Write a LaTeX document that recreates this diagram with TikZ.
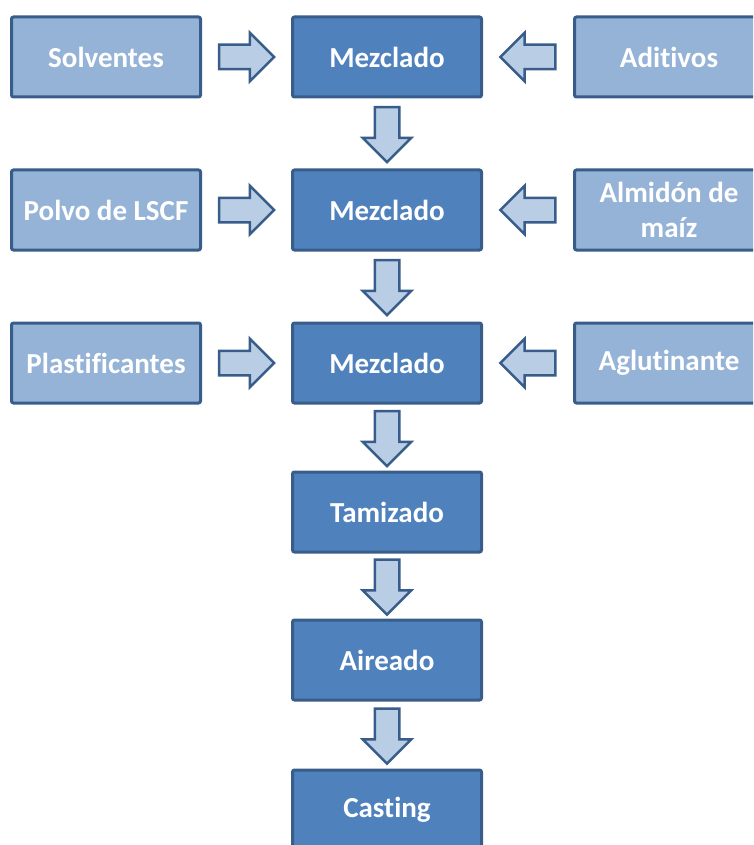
\documentclass[tikz,border=0pt]{standalone}
\usepackage{fontspec}
\setmainfont{Carlito}[Ligatures=NoCommon]
\usepackage{tikz}
\usetikzlibrary{positioning,shapes.arrows,calc}

\definecolor{boxline}{HTML}{385D8A}
\definecolor{inputfill}{HTML}{95B3D7}
\definecolor{stepfill}{HTML}{4F81BD}
\definecolor{arrowfill}{HTML}{B9CDE5}

\tikzset{
  inbox/.style={draw=boxline, line width=3pt, fill=inputfill, rounded corners=2pt,
    minimum width=189pt, minimum height=80pt, inner sep=0pt, text=white,
    align=center, font=\bfseries\fontsize{29}{35}\selectfont},
  stepbox/.style={inbox, fill=stepfill},
  fatarrow/.style={single arrow, draw=boxline, line width=2.5pt, fill=arrowfill,
    minimum height=55pt, minimum width=47pt, single arrow head extend=12pt,
    single arrow head indent=0pt, inner sep=11pt},
  rarrow/.style={fatarrow, xshift=-6pt},
  larrow/.style={fatarrow, shape border rotate=180, xshift=6pt},
  darrow/.style={fatarrow, shape border rotate=270, yshift=5pt}
}

\begin{document}
\begin{tikzpicture}[x=1pt,y=-1pt]
\useasboundingbox (0,0) rectangle (753,845);
\clip (0,0) rectangle (753,845);

% Process steps
\node[stepbox] (mez1) at (387,57) {Mezclado};
\node[stepbox] (mez2) at (387,210) {Mezclado};
\node[stepbox] (mez3) at (387,363) {Mezclado};
\node[stepbox] (tam) at (387,512) {Tamizado};
\node[stepbox] (air) at (387,660) {Aireado};
\node[stepbox] (cast) at (387,810) {Casting};

% Inputs (left)
\node[inbox] (solv) at (106,57) {Solventes};
\node[inbox] (polvo) at (106,210) {Polvo de LSCF};
\node[inbox] (plast) at (106,363) {Plastificantes};

% Inputs (right)
\node[inbox] (adit) at (669,57) {Aditivos};
\node[inbox] (almid) at (669,210) {Almidón de\\maíz};
\node[inbox] (aglut) at (669,363) {Aglutinante};

% Arrows from the left
\node[rarrow] (al1) at ($(solv.east)!0.5!(mez1.west)$) {};
\node[rarrow] (al2) at ($(polvo.east)!0.5!(mez2.west)$) {};
\node[rarrow] (al3) at ($(plast.east)!0.5!(mez3.west)$) {};

% Arrows from the right
\node[larrow] (ar1) at ($(adit.west)!0.5!(mez1.east)$) {};
\node[larrow] (ar2) at ($(almid.west)!0.5!(mez2.east)$) {};
\node[larrow] (ar3) at ($(aglut.west)!0.5!(mez3.east)$) {};

% Arrows down
\node[darrow] (ad1) at ($(mez1.south)!0.5!(mez2.north)$) {};
\node[darrow] (ad2) at ($(mez2.south)!0.5!(mez3.north)$) {};
\node[darrow] (ad3) at ($(mez3.south)!0.5!(tam.north)$) {};
\node[darrow] (ad4) at ($(tam.south)!0.5!(air.north)$) {};
\node[darrow] (ad5) at ($(air.south)!0.5!(cast.north)$) {};
\end{tikzpicture}
\end{document}
